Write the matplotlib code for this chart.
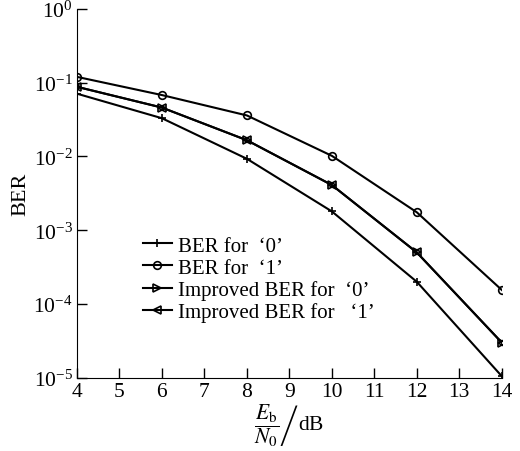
import numpy as np
import matplotlib
matplotlib.use('Agg')
import matplotlib.pyplot as plt

## Data
ebn0 = [4, 6, 8, 10, 12, 14]
ber_0 = [0.071, 0.033, 0.0093, 0.0018, 0.00020, 0.0000105]
ber_1 = [0.120, 0.068, 0.036, 0.0102, 0.00175, 0.000155]
imp_ber_0 = [0.088, 0.046, 0.0166, 0.0041, 0.00050, 0.000030]
imp_ber_1 = [0.088, 0.046, 0.0166, 0.0041, 0.00050, 0.000030]
labels = ['BER for  \u20180\u2019', 'BER for  \u20181\u2019',
          'Improved BER for  \u20180\u2019', 'Improved BER for   \u20181\u2019']

plt.rcParams['font.family'] = ['Liberation Serif', 'DejaVu Serif']
plt.rcParams['mathtext.fontset'] = 'stix'

fig = plt.figure(figsize=(5.2, 4.52), dpi=100)
ax = fig.add_axes([0.148, 0.162, 0.817, 0.816])

mk = dict(color='black', lw=1.5, markersize=5.5, markerfacecolor='none',
          markeredgewidth=1.2)
ax.semilogy(ebn0, ber_0, marker='+', label=labels[0], **mk)
ax.semilogy(ebn0, ber_1, marker='o', label=labels[1], **mk)
ax.semilogy(ebn0, imp_ber_0, marker='>', label=labels[2], **mk)
ax.semilogy(ebn0, imp_ber_1, marker='<', label=labels[3], **mk)

ax.set_xlim(4, 14)
ax.set_ylim(1e-5, 1)
ax.set_xticks(range(4, 15))
ax.set_yticks([1e0, 1e-1, 1e-2, 1e-3, 1e-4, 1e-5])
ax.minorticks_off()
ax.tick_params(direction='in', length=7, width=1, labelsize=15.5, pad=3)
for s in ['top', 'right']:
    ax.spines[s].set_visible(False)

ax.set_ylabel('BER', fontsize=16, labelpad=2)
ax.set_xlabel(r'$\left.\dfrac{E_{\rm b}}{N_0}\right/$dB', fontsize=15.5,
              labelpad=0)

ax.legend(loc='lower left', bbox_to_anchor=(0.155, 0.15), frameon=False,
          fontsize=15, handlelength=1.4, handletextpad=0.3,
          labelspacing=0.12, borderpad=0, borderaxespad=0)

plt.savefig('out.png', dpi=100)
